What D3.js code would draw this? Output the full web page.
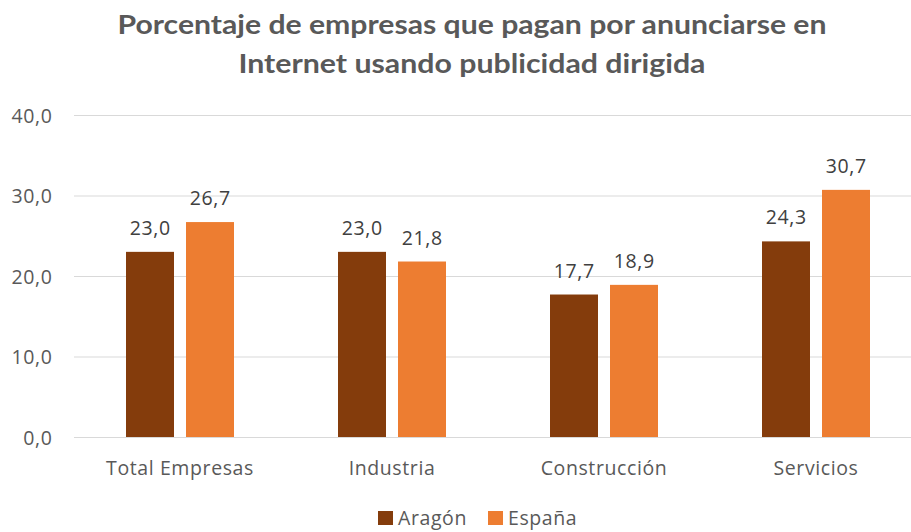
<!DOCTYPE html>
<html>
<head>
<meta charset="utf-8">
<script src="https://cdn.jsdelivr.net/npm/d3@7"></script>
<style>
  html, body { margin: 0; padding: 0; background: #fff; }
  svg { display: block; }
</style>
</head>
<body>
<div id="chart"></div>
<script>
const titleLines = ["Porcentaje de empresas que pagan por anunciarse en", "Internet usando publicidad dirigida"];
const categories = ["Total Empresas", "Industria", "Construcción", "Servicios"];
const seriesNames = ["Aragón", "España"];
const aragon = [23.0, 23.0, 17.7, 24.3];
const espana = [26.7, 21.8, 18.9, 30.7];
const yTicks = [0, 10, 20, 30, 40];
const colors = ["#843C0C", "#ED7D31"];

const W = 911, H = 532;
const FS = 19.5, LS = "0.6px";
const svg = d3.select("#chart").append("svg").attr("width", W).attr("height", H);

const values = [aragon, espana];
const data = categories.map((c, i) => ({ cat: c, vals: seriesNames.map((s, j) => ({ s, v: values[j][i] })) }));

const x0 = d3.scaleBand().domain(categories).range([74, 922]).paddingInner(0).paddingOuter(0);
const x1 = d3.scaleBand().domain(seriesNames).range([52, 160]).paddingInner(0.2).paddingOuter(0);
const y = d3.scaleLinear().domain([0, 40]).range([437, 115]);
const color = d3.scaleOrdinal().domain(seriesNames).range(colors);
const fmt = v => d3.format(".1f")(v).replace(".", ",");

// title
svg.append("g").selectAll("text").data(titleLines).join("text")
  .attr("x", 472).attr("y", (d, i) => 34 + i * 38.5)
  .attr("text-anchor", "middle")
  .attr("font-family", "Lato, 'Open Sans', sans-serif")
  .attr("font-weight", "bold").attr("font-size", 26.5)
  .attr("fill", "#595959")
  .attr("textLength", (d, i) => i === 0 ? 709 : 467)
  .attr("lengthAdjust", "spacingAndGlyphs")
  .text(d => d);

// gridlines + y axis
const yAxis = d3.axisLeft(y).tickValues(yTicks).tickSize(-(W - 74)).tickFormat(fmt);
const gy = svg.append("g").attr("transform", "translate(74,0)").call(yAxis);
gy.select(".domain").remove();
gy.selectAll(".tick line").attr("stroke", "#D9D9D9").attr("stroke-width", 1);
gy.selectAll(".tick text")
  .attr("x", -21.5).attr("dy", "0.36em")
  .attr("font-family", "'Open Sans', sans-serif").attr("font-size", FS)
  .attr("letter-spacing", LS)
  .attr("fill", "#595959");

// bars
const groups = svg.append("g").selectAll("g").data(data).join("g")
  .attr("transform", d => `translate(${x0(d.cat)},0)`);
groups.selectAll("rect").data(d => d.vals).join("rect")
  .attr("x", d => x1(d.s)).attr("width", x1.bandwidth())
  .attr("y", d => y(d.v)).attr("height", d => y(0) - y(d.v))
  .attr("fill", d => color(d.s));
groups.selectAll("text").data(d => d.vals).join("text")
  .attr("x", d => x1(d.s) + x1.bandwidth() / 2 + 0.3)
  .attr("y", d => y(d.v) - 17)
  .attr("text-anchor", "middle")
  .attr("font-family", "'Open Sans', sans-serif").attr("font-size", FS)
  .attr("letter-spacing", LS)
  .attr("fill", "#404040")
  .text(d => fmt(d.v));

// x axis labels
const xAxis = d3.axisBottom(x0).tickSize(0).tickPadding(0);
const gx = svg.append("g").attr("transform", "translate(0,437)").call(xAxis);
gx.select(".domain").remove();
gx.selectAll(".tick text")
  .attr("y", 38).attr("dy", 0)
  .attr("font-family", "'Open Sans', sans-serif").attr("font-size", FS)
  .attr("letter-spacing", LS)
  .attr("fill", "#595959");

// legend
const legendX = [378, 488];
const lg = svg.append("g").selectAll("g").data(seriesNames).join("g")
  .attr("transform", (d, i) => `translate(${legendX[i]},511)`);
lg.append("rect").attr("width", 15).attr("height", 14).attr("fill", d => color(d));
lg.append("text").attr("x", 20).attr("y", 14)
  .attr("font-family", "'Open Sans', sans-serif").attr("font-size", FS)
  .attr("letter-spacing", LS)
  .attr("fill", "#595959")
  .text(d => d);
</script>
</body>
</html>
